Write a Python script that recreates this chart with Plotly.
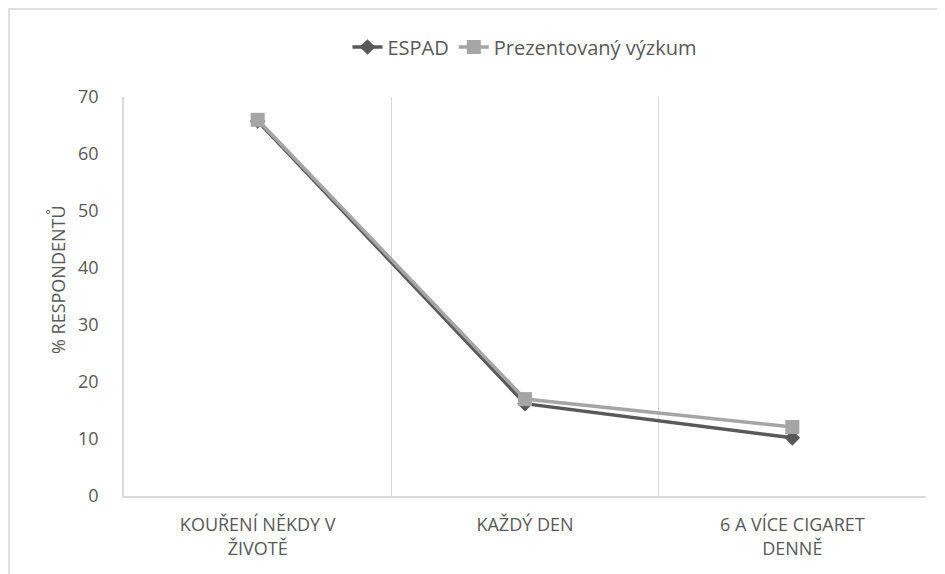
import plotly.graph_objects as go

categories = ["KOUŘENÍ NĚKDY V<br>ŽIVOTĚ", "KAŽDÝ DEN", "6 A VÍCE CIGARET<br>DENNĚ"]
espad = [65.8, 16.2, 10.2]
vyzkum = [66.0, 17.0, 12.1]
series_names = ["ESPAD", "Prezentovaný výzkum"]
y_ticks = [0, 10, 20, 30, 40, 50, 60, 70]
y_title = "% RESPONDENTŮ"

FONT = "Open Sans, Liberation Sans, sans-serif"
TXT = "#595959"
GRID = "#d9d9d9"

# figure coordinates (page body has 8px margin)
L, T, R, B = 116, 89, 27, 86
W, H = 945, 574
pw, ph = W - L - R, H - T - B

fig = go.Figure()
fig.add_trace(go.Scatter(
    x=categories, y=espad, name=series_names[0], mode="lines+markers",
    line=dict(color="#595959", width=3.5),
    marker=dict(symbol="diamond", size=12, color="#595959"),
))
fig.add_trace(go.Scatter(
    x=categories, y=vyzkum, name=series_names[1], mode="lines+markers",
    line=dict(color="#a5a5a5", width=3.5),
    marker=dict(symbol="square", size=14, color="#a5a5a5"),
))

fig.update_layout(
    width=W, height=H,
    margin=dict(l=L, r=R, t=T, b=B, autoexpand=False),
    paper_bgcolor="white", plot_bgcolor="white",
    font=dict(family=FONT, color=TXT, size=15),
    showlegend=True,
    legend=dict(orientation="h", x=0.5, xanchor="center",
                y=1 + (T - 39) / ph, yanchor="middle",
                font=dict(size=20, color=TXT)),
    xaxis=dict(
        type="category", tickson="boundaries", showgrid=True, gridcolor=GRID, gridwidth=1,
        showline=True, linecolor=GRID, linewidth=1.5, ticks="",
        tickfont=dict(size=18, color=TXT), range=[-0.5, 2.5], fixedrange=True,
        zeroline=False, ticklabelstandoff=12, automargin=False,
    ),
    yaxis=dict(
        range=[0, 70], tickvals=y_ticks, showgrid=False, zeroline=False,
        showline=True, linecolor=GRID, linewidth=1.5, ticks="",
        tickfont=dict(size=18, color=TXT), ticklabelstandoff=20, automargin=False,
    ),
    annotations=[dict(text=y_title, textangle=-90, xref="paper", yref="paper",
                      x=-(L - 50) / pw, y=1 - (280 - 97) / ph, xanchor="center", yanchor="middle",
                      showarrow=False, font=dict(size=18, color=TXT))],
    shapes=[dict(type="rect", xref="paper", yref="paper",
                 x0=-(L - 1) / pw, x1=1.2, y0=-0.5, y1=1 + (T - 1) / ph,
                 line=dict(color="#e0e0e0", width=2), fillcolor="rgba(0,0,0,0)", layer="below")],
)

fig.write_html("out.html")
